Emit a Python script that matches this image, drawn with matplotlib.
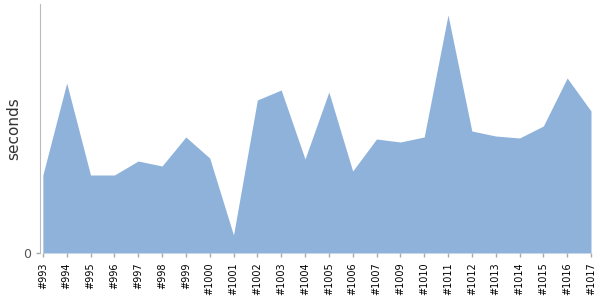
import matplotlib
matplotlib.use("Agg")
import matplotlib.pyplot as plt
import numpy as np

labels = ["#993", "#994", "#995", "#996", "#997", "#998", "#999", "#1000", "#1001",
          "#1002", "#1003", "#1004", "#1005", "#1006", "#1007", "#1009", "#1010",
          "#1011", "#1012", "#1013", "#1014", "#1015", "#1016", "#1017"]
values = [78, 170, 78, 78, 92, 87, 116, 95, 18, 153, 163, 94, 161, 82, 114, 111,
          116, 238, 122, 117, 115, 127, 175, 142]

fig = plt.figure(figsize=(6, 3), dpi=100)
ax = fig.add_axes([40/600, 1-253/300, 551/600, 249/300])
x = np.arange(len(labels))
ax.fill_between(x, values, 0, color="#8fb2db", linewidth=0)
ax.set_xlim(-0.12, len(labels) - 1)
ax.set_ylim(0, 249)
ax.set_xticks(x)
ax.set_xticklabels(labels, rotation=90, fontsize=7, color="black")
ax.set_yticks([0])
ax.set_yticklabels(["0"], fontsize=9, color="#555555")
ax.tick_params(axis="both", colors="#aaaaaa", length=3, width=1, labelcolor="black")
ax.tick_params(axis="y", labelcolor="#555555")
for s in ["top", "right"]:
    ax.spines[s].set_visible(False)
ax.spines["left"].set_color("#bbbbbb")
ax.spines["bottom"].set_visible(False)
ax.set_ylabel("seconds", fontsize=11, color="#333333")
ax.yaxis.set_label_coords(-26/551, 0.5)
ax.yaxis.label.set_verticalalignment("center")
fig.savefig("out.png", dpi=100)
